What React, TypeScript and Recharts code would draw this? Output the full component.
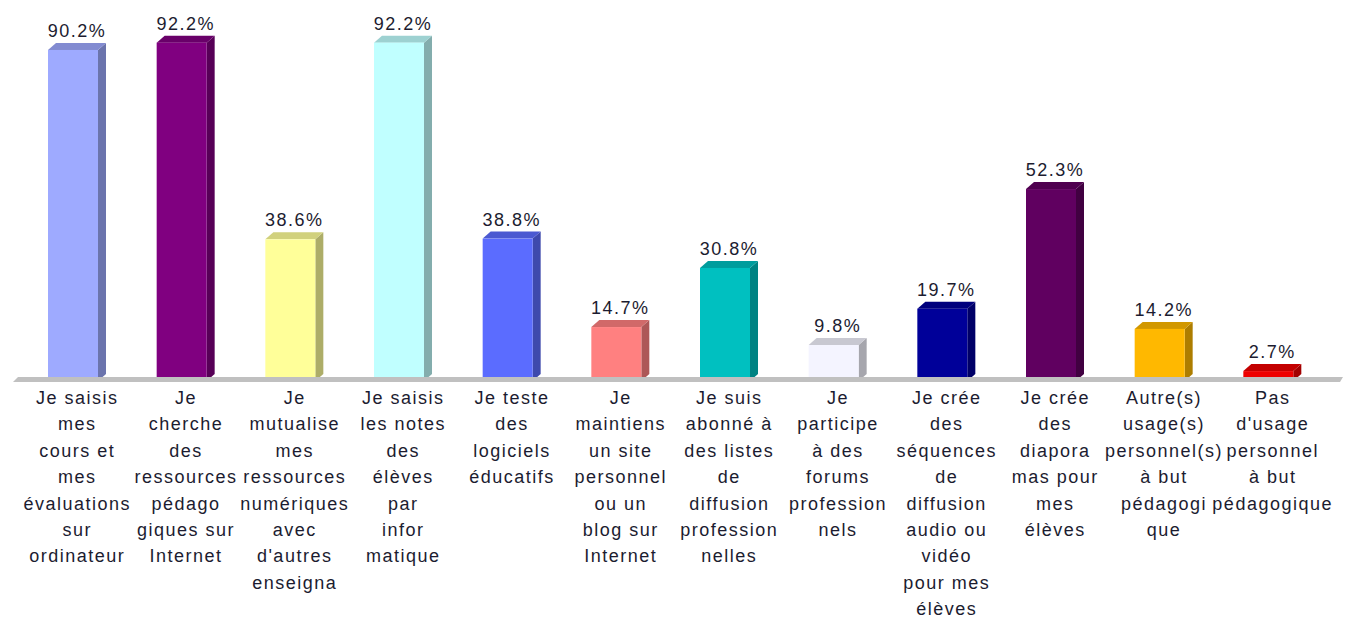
import React from "react";
import { BarChart, Bar, XAxis, YAxis, Cell, LabelList, ReferenceLine } from "recharts";

const categories: string[] = [
  "Je saisis mes cours et mes évaluations sur ordinateur",
  "Je cherche des ressources pédagogiques sur Internet",
  "Je mutualise mes ressources numériques avec d'autres enseignants",
  "Je saisis les notes des élèves par informatique",
  "Je teste des logiciels éducatifs",
  "Je maintiens un site personnel ou un blog sur Internet",
  "Je suis abonné à des listes de diffusion professionnelles",
  "Je participe à des forums professionnels",
  "Je crée des séquences de diffusion audio ou vidéo pour mes élèves",
  "Je crée des diaporamas pour mes élèves",
  "Autre(s) usage(s) personnel(s) à but pédagogique",
  "Pas d'usage personnel à but pédagogique",
];

const values: number[] = [90.2, 92.2, 38.6, 92.2, 38.8, 14.7, 30.8, 9.8, 19.7, 52.3, 14.2, 2.7];

const tickLines: string[][] = [
  ["Je saisis", "mes", "cours et", "mes", "évaluations", "sur", "ordinateur"],
  ["Je", "cherche", "des", "ressources", "pédago", "giques sur", "Internet"],
  ["Je", "mutualise", "mes", "ressources", "numériques", "avec", "d'autres", "enseigna"],
  ["Je saisis", "les notes", "des", "élèves", "par", "infor", "matique"],
  ["Je teste", "des", "logiciels", "éducatifs"],
  ["Je", "maintiens", "un site", "personnel", "ou un", "blog sur", "Internet"],
  ["Je suis", "abonné à", "des listes", "de", "diffusion", "profession", "nelles"],
  ["Je", "participe", "à des", "forums", "profession", "nels"],
  ["Je crée", "des", "séquences", "de", "diffusion", "audio ou", "vidéo", "pour mes", "élèves"],
  ["Je crée", "des", "diapora", "mas pour", "mes", "élèves"],
  ["Autre(s)", "usage(s)", "personnel(s)", "à but", "pédagogi", "que"],
  ["Pas", "d'usage", "personnel", "à but", "pédagogique"],
];

const colors: string[] = [
  "#9eaaff", "#800080", "#ffff99", "#c0ffff", "#5b6cff", "#ff8080",
  "#00c0c0", "#f4f4ff", "#000099", "#600060", "#ffb800", "#ee0000",
];

const data = categories.map((name, i) => ({ name, value: values[i], idx: i }));

const FONT = "'Liberation Sans', Arial, sans-serif";
const TEXT = "#1c1c30";

function shade(hex: string, f: number): string {
  const n = parseInt(hex.slice(1), 16);
  const r = Math.round(((n >> 16) & 255) * f);
  const g = Math.round(((n >> 8) & 255) * f);
  const b = Math.round((n & 255) * f);
  return `rgb(${r},${g},${b})`;
}

const DX = 8;
const DY = 7;
const SHIFT = 4;

const Bar3D = (props: any) => {
  const { x, y, width, height, fill } = props;
  if (height == null || width == null) return null;
  const fx = x - SHIFT;
  const fr = fx + width;
  const bottom = y + height;
  return (
    <g>
      <polygon
        points={`${fr},${y} ${fr + DX},${y - DY} ${fr + DX},${bottom - DY} ${fr},${bottom}`}
        fill={shade(fill, 0.68)}
      />
      <polygon
        points={`${fx},${y} ${fx + DX},${y - DY} ${fr + DX},${y - DY} ${fr},${y}`}
        fill={shade(fill, 0.82)}
      />
      <rect x={fx} y={y} width={width} height={height} fill={fill} />
    </g>
  );
};

const ValueLabel = (props: any) => {
  const { x, y, width, value } = props;
  return (
    <text
      x={x + width / 2}
      y={y - 13}
      textAnchor="middle"
      fontFamily={FONT}
      fontSize={18}
      letterSpacing={1.5}
      fill={TEXT}
    >
      {`${Number(value).toFixed(1)}%`}
    </text>
  );
};

const CategoryTick = (props: any) => {
  const { x, y, index } = props;
  const lines = tickLines[index] || [];
  return (
    <text
      x={x}
      y={y}
      textAnchor="middle"
      fontFamily={FONT}
      fontSize={18}
      letterSpacing={1.5}
      fill={TEXT}
    >
      {lines.map((l, i) => (
        <tspan key={i} x={x} y={y + 23 + i * 26.4}>
          {l}
        </tspan>
      ))}
    </text>
  );
};

const Floor = (props: any) => {
  const { x1, x2, y1 } = props;
  if (x1 == null) return null;
  const a = Math.min(x1, x2);
  const b = Math.max(x1, x2);
  return (
    <polygon
      points={`${a + 1},${y1 + 1} ${b},${y1 + 1} ${b + 3},${y1 - 4} ${a + 6},${y1 - 4}`}
      fill="#c0c0c0"
    />
  );
};

export default function App() {
  return (
    <BarChart
      width={1354}
      height={612}
      data={data}
      margin={{ top: 6, right: 22, bottom: 0, left: 4 }}
    >
      <XAxis
        dataKey="name"
        axisLine={false}
        tickLine={false}
        tickSize={0}
        tickMargin={0}
        height={239}
        interval={0}
        padding={{ left: 11, right: 13 }}
        tick={<CategoryTick />}
      />
      <YAxis hide domain={[0, 100]} />
      <ReferenceLine y={0} shape={<Floor />} stroke="#c0c0c0" />
      <Bar dataKey="value" barSize={50} isAnimationActive={false} shape={<Bar3D />}>
        {data.map((d, i) => (
          <Cell key={i} fill={colors[i]} />
        ))}
        <LabelList dataKey="value" content={<ValueLabel />} />
      </Bar>
    </BarChart>
  );
}
